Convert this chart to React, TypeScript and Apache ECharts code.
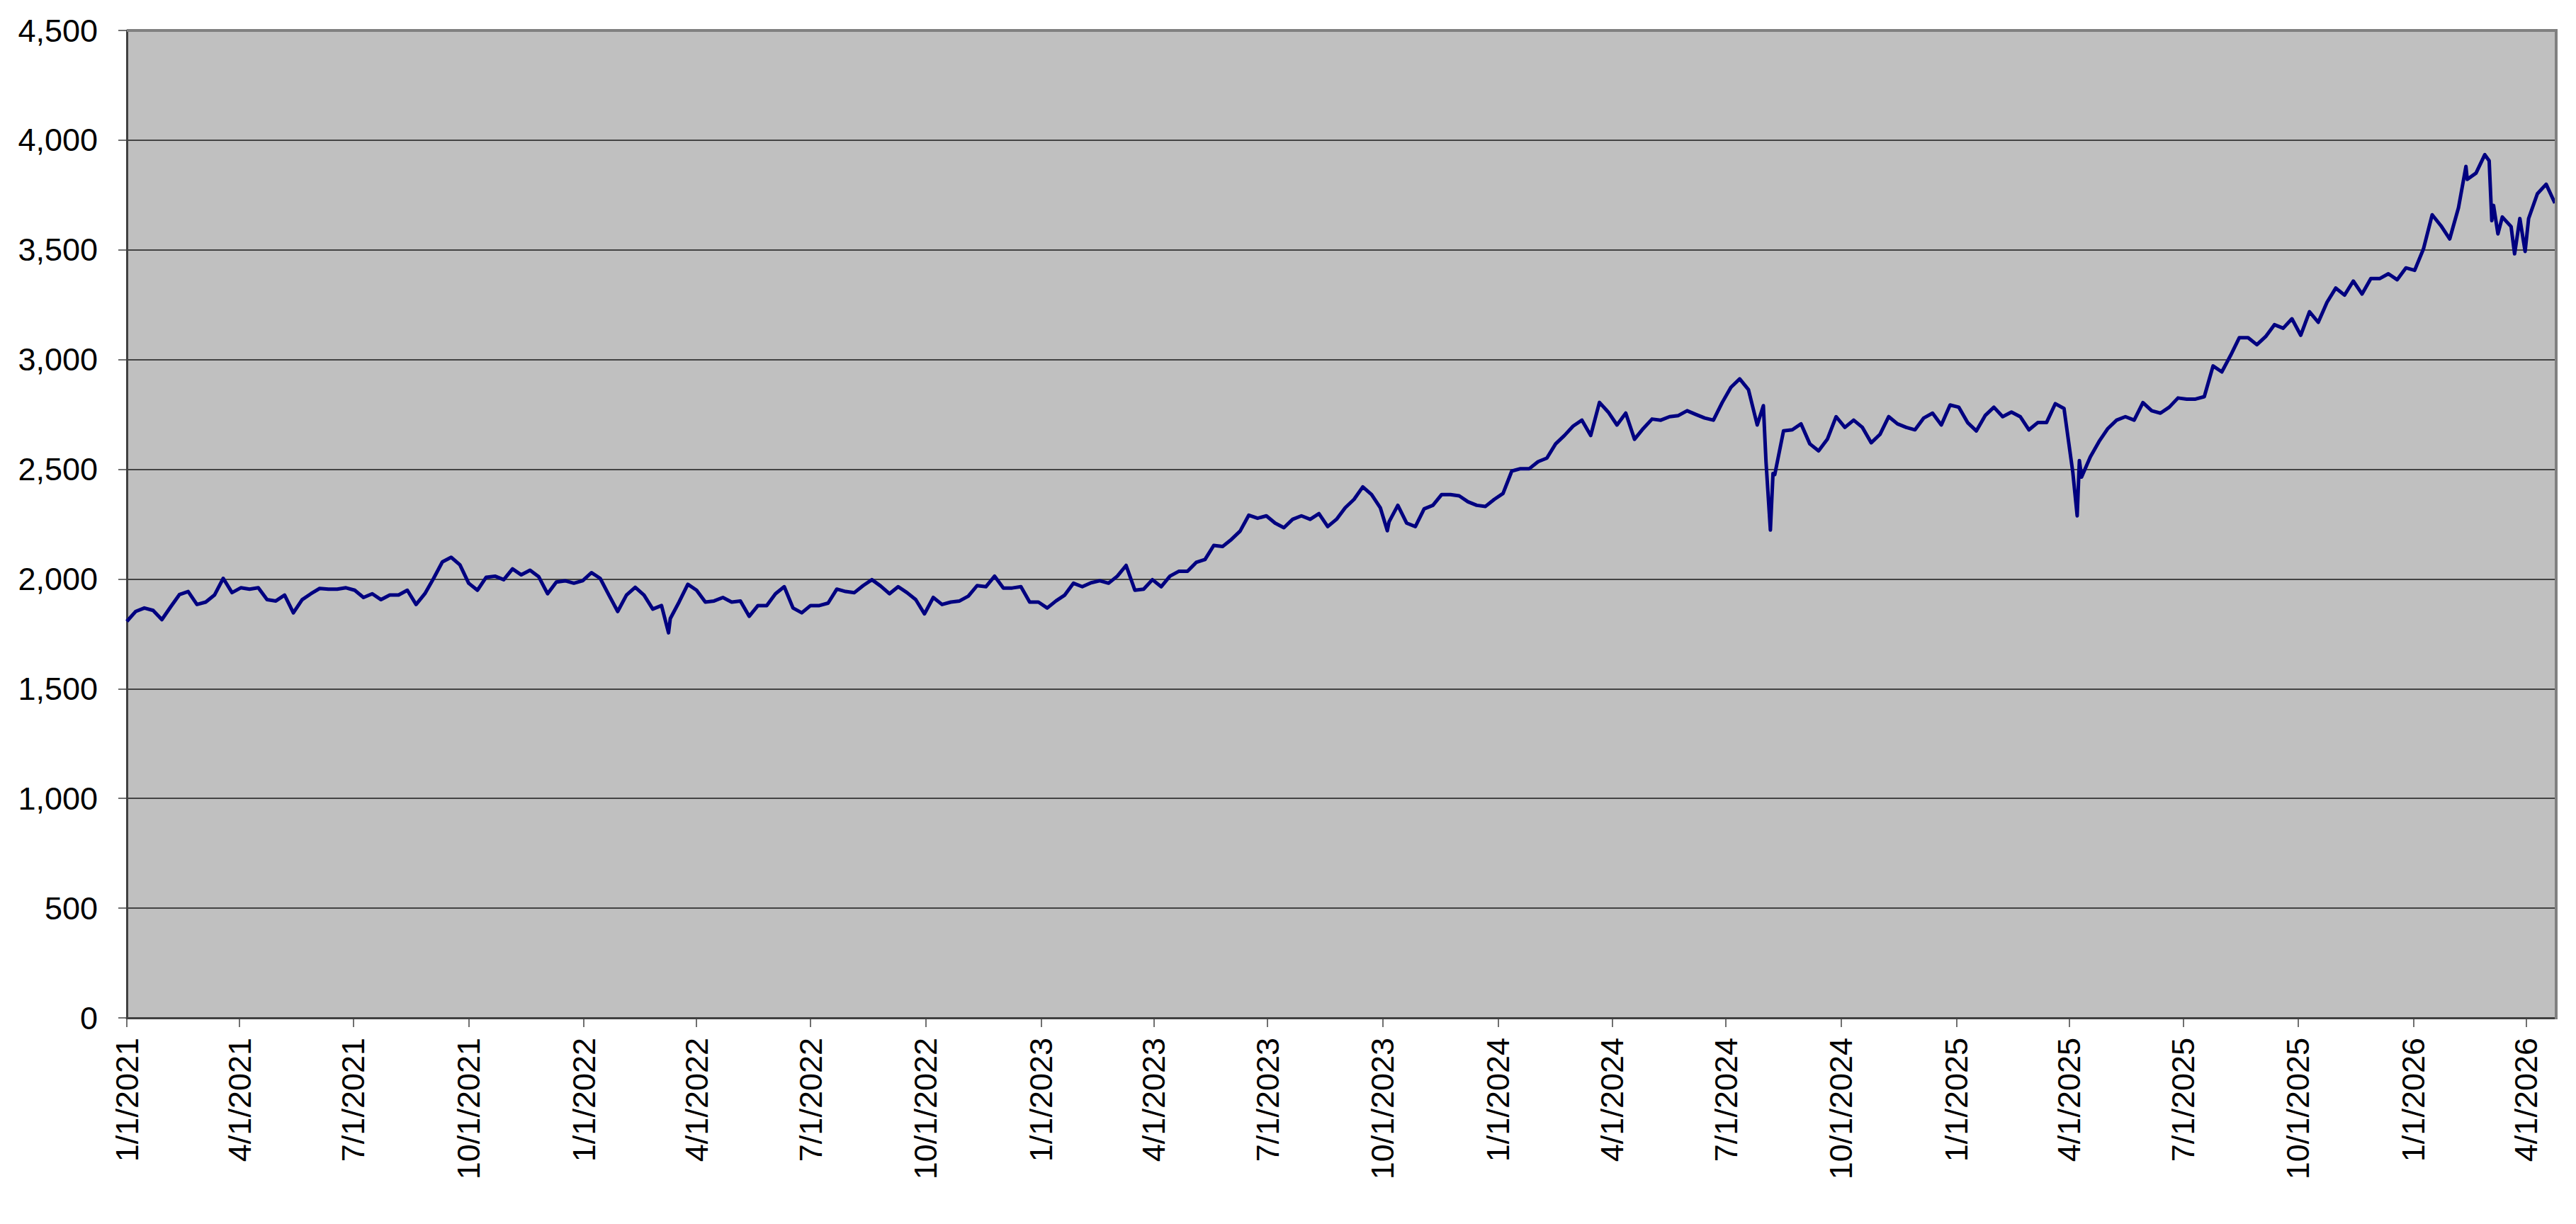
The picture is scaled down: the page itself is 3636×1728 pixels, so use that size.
import React, { useEffect, useRef } from "react";
import * as echarts from "echarts";

// Weekly closing values (week 0 = 1/1/2021)
const values2021 = [
  1807, 1852, 1868, 1857, 1815, 1873, 1929, 1943, 1884, 1895, 1927, 2003, 1938, 1960, 1954, 1960,
  1906, 1900, 1927, 1846, 1906, 1933, 1957, 1954, 1954, 1960, 1949, 1916, 1933, 1906, 1927, 1927,
  1949, 1884, 1933, 2003, 2078, 2099, 2065, 1981, 1949, 2008, 2013, 1997, 2046, 2019, 2040, 2010,
  1933, 1986, 1992, 1981, 1992,
];
const values2022 = [
  2029, 2003, 1927, 1852, 1927, 1962, 1927, 1863, 1879, 1820, 1895, 1976, 1949, 1895, 1900, 1916,
  1895, 1900, 1830, 1879, 1879, 1933, 1965, 1868, 1846, 1879, 1879, 1890, 1954, 1943, 1938, 1970,
  1997, 1968, 1933, 1965, 1938, 1906, 1841, 1916, 1884, 1895, 1900, 1922, 1970, 1965, 2013, 1959,
  1959, 1965, 1895, 1895,
];
const values2023 = [
  1868, 1900, 1927, 1981, 1965, 1983, 1992, 1981, 2013, 2062, 1949, 1954, 1997, 1965, 2013, 2035,
  2035, 2076, 2089, 2153, 2148, 2180, 2218, 2291, 2277, 2288, 2255, 2234, 2272, 2288, 2272, 2298,
  2239, 2272, 2325, 2363, 2420, 2385, 2325, 2261, 2336, 2255, 2239, 2320, 2336, 2385, 2385, 2379,
  2352, 2336, 2331, 2363,
];
const values2024 = [
  2390, 2492, 2503, 2503, 2535, 2551, 2616, 2654, 2697, 2724, 2654, 2805, 2761, 2702, 2756, 2637,
  2686, 2729, 2724, 2740, 2745, 2767, 2750, 2734, 2724, 2804, 2874, 2912, 2863, 2702, 2535, 2476,
  2675, 2680, 2707, 2616, 2584, 2637, 2740, 2691, 2724, 2691, 2621, 2659, 2740, 2707, 2691, 2680,
  2734, 2756, 2702, 2793,
];
const values2025 = [
  2783, 2713, 2675, 2745, 2783, 2740, 2761, 2740, 2680, 2713, 2713, 2799, 2777, 2487, 2465, 2557,
  2627, 2686, 2724, 2740, 2724, 2804, 2767, 2756, 2783, 2825, 2820, 2820, 2831, 2971, 2944, 3019,
  3100, 3100, 3068, 3105, 3159, 3143, 3186, 3111, 3218, 3170, 3261, 3326, 3294, 3358, 3299, 3369,
  3369, 3391, 3364, 3418,
];
const values2026 = [
  3407, 3504, 3660, 3610, 3550, 3692, 3821, 3850, 3934, 3703, 3650, 3606, 3643, 3643, 3756, 3799,
  3713,
];

// Intra-week spikes: [week (fractional), value]
const spikes: [number, number][] = [
  [61.8, 1755],
  [143.8, 2220],
  [186.7, 2790],
  [187.5, 2223],
  [187.8, 2481],
  [222.5, 2288],
  [222.75, 2540],
  [266.85, 3880],
  [269.5, 3906],
  [269.8, 3633],
  [270.5, 3573],
  [272.4, 3482],
  [273.6, 3493],
];

const tickLabels = [
  "1/1/2021", "4/1/2021", "7/1/2021", "10/1/2021",
  "1/1/2022", "4/1/2022", "7/1/2022", "10/1/2022",
  "1/1/2023", "4/1/2023", "7/1/2023", "10/1/2023",
  "1/1/2024", "4/1/2024", "7/1/2024", "10/1/2024",
  "1/1/2025", "4/1/2025", "7/1/2025", "10/1/2025",
  "1/1/2026", "4/1/2026",
];

const START = Date.UTC(2021, 0, 1);
const DAY = 86400000;
const X_MAX_DAY = 1940;

function labelToDay(s: string): number {
  const [m, d, y] = s.split("/").map(Number);
  return Math.round((Date.UTC(y, m - 1, d) - START) / DAY);
}

export default function App() {
  const ref = useRef<HTMLDivElement>(null);

  useEffect(() => {
    document.body.style.margin = "0";
    if (!ref.current) return;
    const chart = echarts.init(ref.current, undefined, { renderer: "svg" });

    const weekly = [...values2021, ...values2022, ...values2023, ...values2024, ...values2025, ...values2026];
    const pts: [number, number][] = weekly.map((v, i) => [i * 7, v] as [number, number]);
    spikes.forEach(([w, v]) => pts.push([w * 7, v]));
    pts.sort((a, b) => a[0] - b[0]);

    const tickDays = tickLabels.map(labelToDay);
    const dayToLabel: Record<number, string> = {};
    tickDays.forEach((d, i) => (dayToLabel[d] = tickLabels[i]));

    const L = 179, T = 43, R = 28, B = 291;
    const W = 3636, H = 1728;

    chart.setOption({
      animation: false,
      backgroundColor: "#ffffff",
      textStyle: { fontFamily: "Liberation Sans, Arial, sans-serif" },
      grid: {
        left: L, top: T, right: R, bottom: B,
        show: true,
        backgroundColor: "#C0C0C0",
        borderWidth: 0,
        containLabel: false,
      },
      xAxis: {
        type: "value",
        min: 0,
        max: X_MAX_DAY,
        splitLine: { show: false },
        axisLine: { show: true, lineStyle: { color: "#404040", width: 3 } },
        axisTick: {
          show: true,
          customValues: tickDays,
          length: 13,
          inside: false,
          lineStyle: { color: "#404040", width: 1.5 },
        },
        axisLabel: {
          customValues: tickDays,
          rotate: 90,
          margin: 28,
          fontSize: 45,
          color: "#000000",
          fontFamily: "Liberation Sans, Arial, sans-serif",
          formatter: (v: number) => dayToLabel[Math.round(v)] ?? "",
        },
      },
      yAxis: {
        type: "value",
        min: 0,
        max: 4500,
        interval: 500,
        axisLine: { show: true, lineStyle: { color: "#404040", width: 3 } },
        axisTick: { show: true, length: 12, lineStyle: { color: "#404040", width: 1.5 } },
        splitLine: { show: true, lineStyle: { color: "#1a1a1a", width: 1.5 } },
        axisLabel: {
          margin: 41,
          fontSize: 45,
          color: "#000000",
          fontFamily: "Liberation Sans, Arial, sans-serif",
          formatter: (v: number) => v.toLocaleString("en-US"),
        },
      },
      series: [
        {
          type: "line",
          data: pts,
          showSymbol: false,
          symbol: "none",
          lineStyle: { color: "#000080", width: 5, join: "round" },
          z: 5,
        },
      ],
      graphic: [
        {
          type: "line",
          z: 100,
          shape: { x1: L, y1: T, x2: W - R + 2, y2: T },
          style: { stroke: "#808080", lineWidth: 4 },
        },
        {
          type: "line",
          z: 100,
          shape: { x1: W - R, y1: T, x2: W - R, y2: H - B + 2 },
          style: { stroke: "#808080", lineWidth: 4 },
        },
      ],
    });

    return () => chart.dispose();
  }, []);

  return <div ref={ref} style={{ width: 3636, height: 1728 }} />;
}
